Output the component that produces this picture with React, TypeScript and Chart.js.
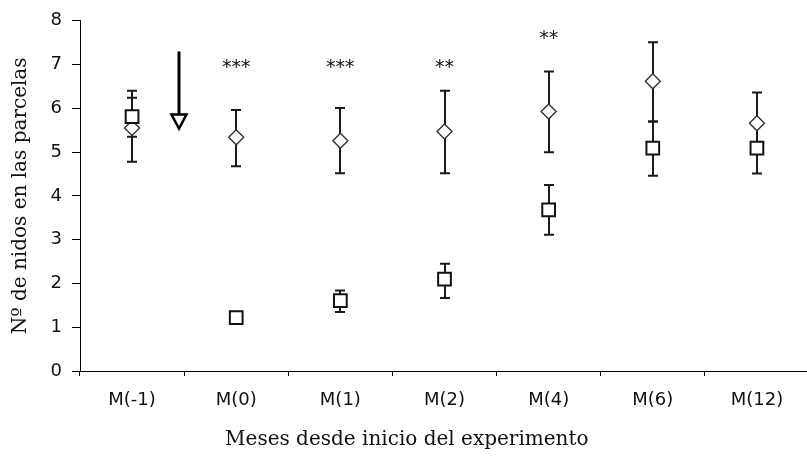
import React, { useEffect, useRef } from "react";
import { Chart, registerables } from "chart.js";

Chart.register(...registerables);

// ---- Data ----
const categories = ["M(-1)", "M(0)", "M(1)", "M(2)", "M(4)", "M(6)", "M(12)"];

// Diamond series (open diamonds)
const diamondMean = [5.55, 5.34, 5.26, 5.47, 5.93, 6.62, 5.66];
const diamondHigh = [6.24, 5.96, 6.01, 6.4, 6.84, 7.51, 6.36];
const diamondLow = [4.78, 4.68, 4.52, 4.52, 5.0, 5.7, 4.96];

// Square series (open squares)
const squareMean = [5.81, 1.22, 1.61, 2.1, 3.68, 5.09, 5.09];
const squareHigh = [6.4, 1.32, 1.84, 2.45, 4.25, 5.7, 5.67];
const squareLow = [5.35, 1.12, 1.35, 1.67, 3.11, 4.46, 4.51];

// Significance marks
const significance = ["", "***", "***", "**", "**", "", ""];
const significanceY = [0, 7.0, 7.0, 7.0, 7.65, 0, 0];

// Arrow (treatment moment), between M(-1) and M(0)
const arrowCategoryOffset = 0.45; // fraction of category spacing after M(-1)
const arrowTopValue = 7.3;
const arrowTipValue = 5.54;

const yMin = 0;
const yMax = 8;
const yStep = 1;

const yTitle = "Nº de nidos en las parcelas";
const xTitle = "Meses desde inicio del experimento";

const errorBarPlugin = {
  id: "errorBars",
  beforeDatasetsDraw(chart: any) {
    const { ctx, scales } = chart;
    const x = scales.x;
    const y = scales.y;
    ctx.save();
    ctx.strokeStyle = "#1a1a1a";
    ctx.lineWidth = 2;
    const draw = (lows: number[], highs: number[]) => {
      for (let i = 0; i < lows.length; i++) {
        const px = Math.round(x.getPixelForValue(i));
        const yl = y.getPixelForValue(lows[i]);
        const yh = y.getPixelForValue(highs[i]);
        ctx.beginPath();
        ctx.moveTo(px, yl);
        ctx.lineTo(px, yh);
        ctx.moveTo(px - 5, yl);
        ctx.lineTo(px + 5, yl);
        ctx.moveTo(px - 5, yh);
        ctx.lineTo(px + 5, yh);
        ctx.stroke();
      }
    };
    draw(diamondLow, diamondHigh);
    draw(squareLow, squareHigh);
    ctx.restore();
  },
};

const annotationPlugin = {
  id: "annotations",
  afterDatasetsDraw(chart: any) {
    const { ctx, scales } = chart;
    const x = scales.x;
    const y = scales.y;
    ctx.save();
    // asterisks
    ctx.fillStyle = "#111";
    ctx.font = "19px 'DejaVu Sans'";
    ctx.textAlign = "center";
    ctx.textBaseline = "alphabetic";
    for (let i = 0; i < significance.length; i++) {
      if (!significance[i]) continue;
      const px = x.getPixelForValue(i);
      const py = y.getPixelForValue(significanceY[i]);
      ctx.fillText(significance[i], px, py + 8);
    }
    // arrow
    const x0 = x.getPixelForValue(0);
    const x1 = x.getPixelForValue(1);
    const ax = Math.round(x0 + (x1 - x0) * arrowCategoryOffset);
    const yTop = y.getPixelForValue(arrowTopValue);
    const yTip = y.getPixelForValue(arrowTipValue);
    const headH = 14;
    const headW = 7.5;
    ctx.strokeStyle = "#000";
    ctx.lineWidth = 3;
    ctx.beginPath();
    ctx.moveTo(ax, yTop);
    ctx.lineTo(ax, yTip - headH);
    ctx.stroke();
    ctx.beginPath();
    ctx.moveTo(ax - headW, yTip - headH);
    ctx.lineTo(ax + headW, yTip - headH);
    ctx.lineTo(ax, yTip);
    ctx.closePath();
    ctx.fillStyle = "#fff";
    ctx.fill();
    ctx.lineWidth = 2.5;
    ctx.lineJoin = "miter";
    ctx.stroke();
    ctx.restore();
  },
};

export default function App() {
  const canvasRef = useRef<HTMLCanvasElement | null>(null);

  useEffect(() => {
    if (!canvasRef.current) return;
    const chart = new Chart(canvasRef.current, {
      type: "line",
      data: {
        labels: categories,
        datasets: [
          {
            label: "squares",
            data: squareMean,
            showLine: false,
            pointStyle: "rect",
            pointRadius: 9,
            pointBorderWidth: 2,
            pointBorderColor: "#111",
            pointBackgroundColor: "#fff",
          },
          {
            label: "diamonds",
            data: diamondMean,
            showLine: false,
            pointStyle: "rectRot",
            pointRadius: 7.5,
            pointBorderWidth: 1.4,
            pointBorderColor: "#333",
            pointBackgroundColor: "#fff",
          },
        ],
      },
      options: {
        animation: false,
        responsive: false,
        devicePixelRatio: 1,
        events: [],
        layout: { padding: { top: 20, right: 6.4, left: 0, bottom: 0 } },
        plugins: {
          legend: { display: false },
          tooltip: { enabled: false },
          title: {
            display: true,
            position: "bottom",
            text: xTitle,
            color: "#111",
            font: { family: "'DejaVu Serif'", size: 20, weight: "normal" },
            padding: { top: 12, bottom: 15 },
          },
        },
        scales: {
          x: {
            type: "category",
            offset: true,
            grid: {
              offset: true,
              drawOnChartArea: false,
              drawTicks: true,
              tickLength: 5,
              color: "#000",
            },
            border: { display: true, color: "#000", width: 1 },
            ticks: {
              color: "#111",
              font: { family: "'DejaVu Sans'", size: 18 },
              padding: 14,
              maxRotation: 0,
              autoSkip: false,
            },
            afterFit(scale: any) {
              scale.height = 45;
            },
          },
          y: {
            min: yMin,
            max: yMax,
            grid: {
              drawOnChartArea: false,
              drawTicks: true,
              tickLength: 8,
              color: "#000",
            },
            border: { display: true, color: "#000", width: 1 },
            ticks: {
              stepSize: yStep,
              color: "#111",
              font: { family: "'DejaVu Sans'", size: 18 },
              padding: 10,
            },
            title: {
              display: true,
              text: yTitle,
              color: "#111",
              font: { family: "'DejaVu Serif'", size: 20, weight: "normal" },
              padding: { top: 9, bottom: 0 },
            },
            afterFit(scale: any) {
              scale.width = 80;
            },
          },
        },
      },
      plugins: [errorBarPlugin, annotationPlugin],
    });
    return () => chart.destroy();
  }, []);

  return (
    <div
      style={{
        position: "fixed",
        left: 0,
        top: 0,
        width: 807,
        height: 467,
        overflow: "hidden",
        background: "#fff",
      }}
    >
      <canvas
        ref={canvasRef}
        width={820}
        height={467}
        style={{ display: "block", width: 820, height: 467 }}
      />
    </div>
  );
}
